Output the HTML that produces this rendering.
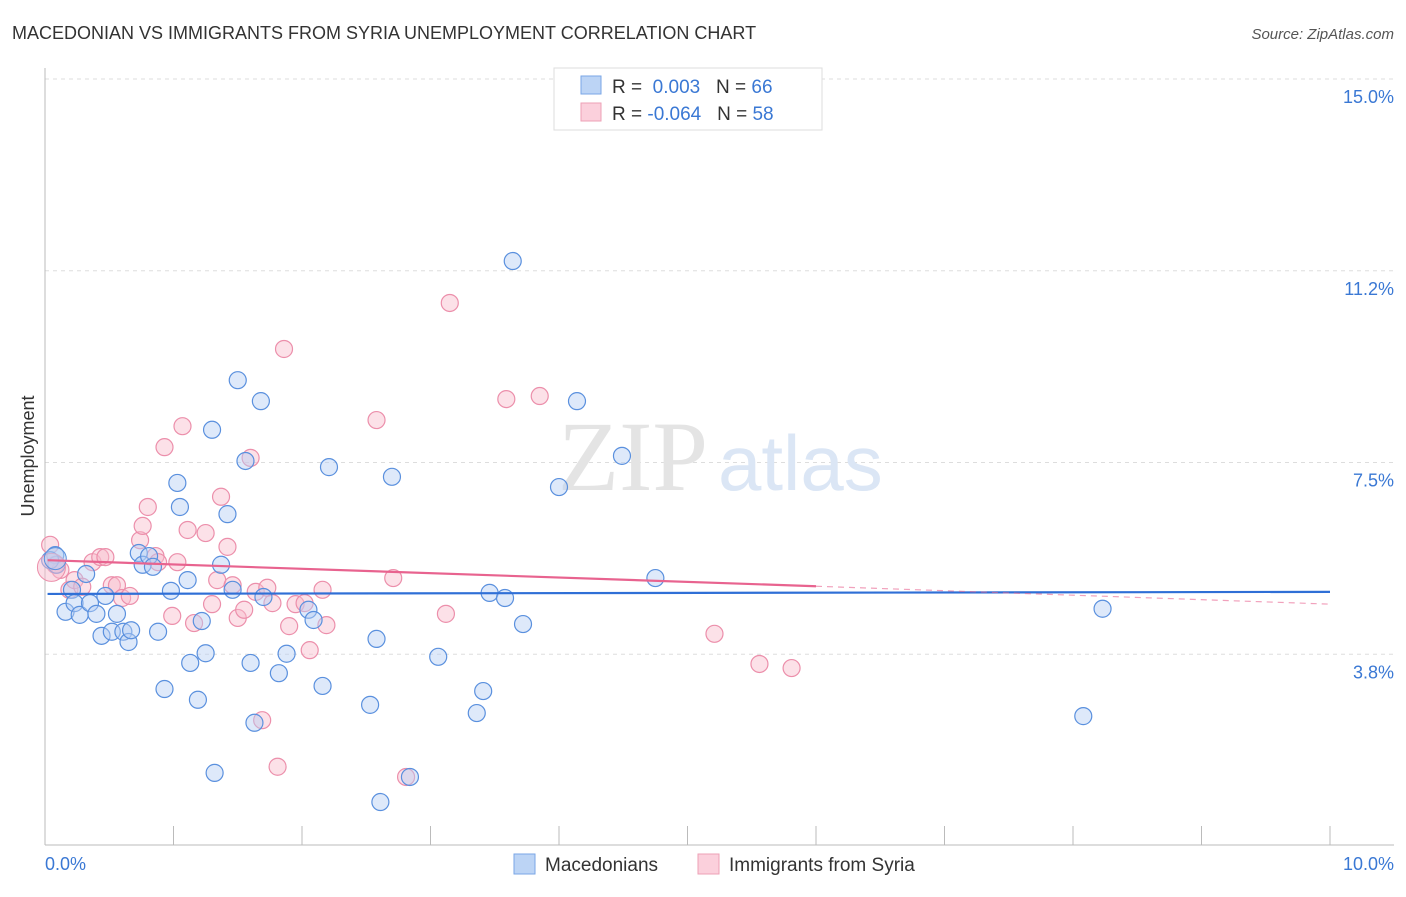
<!DOCTYPE html>
<html><head><meta charset="utf-8"><style>
body{margin:0;background:#fff;font-family:"Liberation Sans",sans-serif;}
</style></head><body>
<svg width="1406" height="892" viewBox="0 0 1406 892" style="font-family:'Liberation Sans',sans-serif">
<text x="12" y="39" font-size="18" fill="#333">MACEDONIAN VS IMMIGRANTS FROM SYRIA UNEMPLOYMENT CORRELATION CHART</text>
<text x="1394" y="39" font-size="15" fill="#555" text-anchor="end" font-style="italic">Source: ZipAtlas.com</text>
<g id="grid"></g>
<g id="yticks"></g>
<g id="xticks"></g>
<line x1="45" y1="68" x2="45" y2="845" stroke="#bbb"/>
<line x1="45" y1="845" x2="1394" y2="845" stroke="#bbb"/>
<text x="34" y="456" font-size="18" fill="#333" text-anchor="middle" transform="rotate(-90 34 456)">Unemployment</text>
<text x="45" y="870" font-size="18" fill="#3a78d4">0.0%</text>
<text x="1394" y="870" font-size="18" fill="#3a78d4" text-anchor="end">10.0%</text>
<text x="558" y="490" font-size="100" fill="#e4e4e4" font-family="Liberation Serif">ZIP</text>
<text x="718" y="490" font-size="78" fill="#dbe6f5">atlas</text>
<g id="pink"></g>
<g id="blue"></g>
<g id="lines"></g>
<g>
<rect x="554" y="68" width="268" height="62" fill="#fff" stroke="#ddd"/>
<rect x="581" y="76" width="20" height="18" fill="#bcd4f5" stroke="#7aa6e6"/>
<rect x="581" y="103" width="20" height="18" fill="#fbd0dc" stroke="#eea0b6"/>
<text x="612" y="93" font-size="19" fill="#333">R = <tspan fill="#3a78d4">&#160;0.003</tspan>&#160;&#160;&#160;N = <tspan fill="#3a78d4">66</tspan></text>
<text x="612" y="120" font-size="19" fill="#333">R = <tspan fill="#3a78d4">-0.064</tspan>&#160;&#160;&#160;N = <tspan fill="#3a78d4">58</tspan></text>
</g>
<g>
<rect x="514" y="854" width="21" height="20" fill="#bcd4f5" stroke="#7aa6e6"/>
<text x="545" y="871" font-size="19" fill="#333">Macedonians</text>
<rect x="698" y="854" width="21" height="20" fill="#fbd0dc" stroke="#eea0b6"/>
<text x="729" y="871" font-size="19" fill="#333">Immigrants from Syria</text>
</g>
</svg>
<script>
const yTicks=[3.75,7.5,11.25,15];
const yTickLabels=["3.8%","7.5%","11.2%","15.0%"];
const xTicks=[0,1,2,3,4,5,6,7,8,9,10];
const blueX=[0.08,0.09,0.16,0.21,0.23,0.27,0.32,0.35,0.40,0.44,0.47,0.52,0.56,0.61,0.65,0.67,0.73,0.76,0.81,0.84,0.88,0.93,0.98,1.03,1.05,1.11,1.13,1.19,1.22,1.25,1.30,1.32,1.37,1.42,1.46,1.50,1.56,1.60,1.63,1.68,1.70,1.82,1.88,2.05,2.09,2.16,2.21,2.53,2.58,2.61,2.70,2.84,3.06,3.36,3.41,3.46,3.58,3.64,3.72,4.00,4.14,4.49,4.75,8.08,8.23,0.04];
const blueY=[5.69,5.50,4.58,5.01,4.75,4.52,5.32,4.75,4.54,4.11,4.89,4.19,4.54,4.19,3.99,4.22,5.73,5.50,5.67,5.46,4.19,3.07,4.99,7.10,6.63,5.20,3.58,2.86,4.40,3.77,8.14,1.43,5.50,6.49,5.01,9.11,7.53,3.58,2.41,8.70,4.87,3.38,3.76,4.62,4.42,3.13,7.41,2.76,4.05,0.86,7.22,1.35,3.70,2.60,3.03,4.95,4.85,11.44,4.34,7.02,8.70,7.63,5.24,2.54,4.64,5.59];
const pinkX=[0.04,0.08,0.12,0.19,0.23,0.29,0.37,0.43,0.47,0.52,0.56,0.60,0.66,0.74,0.76,0.80,0.86,0.88,0.93,0.99,1.03,1.07,1.11,1.16,1.25,1.30,1.34,1.37,1.42,1.46,1.50,1.55,1.60,1.64,1.69,1.73,1.77,1.81,1.86,1.90,1.95,2.02,2.06,2.16,2.19,2.58,2.71,2.81,3.12,3.15,3.59,3.85,5.21,5.56,5.81];
const pinkY=[5.89,5.50,5.40,5.01,5.20,5.07,5.55,5.65,5.65,5.10,5.10,4.85,4.89,5.98,6.26,6.63,5.67,5.55,7.80,4.50,5.55,8.21,6.18,4.36,6.12,4.73,5.20,6.83,5.85,5.10,4.46,4.62,7.59,4.97,2.46,5.05,4.75,1.55,9.72,4.30,4.73,4.75,3.83,5.01,4.32,8.33,5.24,1.35,4.54,10.62,8.74,8.80,4.15,3.56,3.48];
const blueTrend=[4.93,4.97];
const pinkTrend=[5.59,5.08,4.73];
const NS="http://www.w3.org/2000/svg";
const X0=45,X1=1330,Y0=846,Y15=79;
const sx=v=>X0+(X1-X0)*v/10;
const sy=v=>Y0-(Y0-Y15)*v/15;
function mk(t,a,p){const e=document.createElementNS(NS,t);for(const k in a)e.setAttribute(k,a[k]);p.appendChild(e);return e;}
const grid=document.getElementById('grid'),yt=document.getElementById('yticks'),xt=document.getElementById('xticks');
yTicks.forEach((v,i)=>{
 const l=mk('line',{x1:45,x2:1394,y1:sy(v),y2:sy(v),stroke:'#ddd','stroke-dasharray':'4,4'},grid);
 
 
 const t=mk('text',{x:1394,y:sy(v)+24,'font-size':18,fill:'#3a78d4','text-anchor':'end'},yt);
 t.textContent=yTickLabels[i];
 
 
});
xTicks.forEach(v=>{
 const l=mk('line',{x1:sx(v),x2:sx(v),y1:826,y2:845,stroke:'#bbb'},xt);
 
 
});
function pts(xs,ys,g,fill,stroke,name){
 xs.forEach((x,i)=>{
  const c=mk('circle',{cx:sx(x),cy:sy(ys[i]),r:8.5,fill:fill,'fill-opacity':0.45,stroke:stroke,'stroke-width':1.2},g);
  
  
 });
}
pts(pinkX,pinkY,document.getElementById('pink'),'#f8bccd','#ec8fab','syria-point');
pts(blueX,blueY,document.getElementById('blue'),'#b6cff3','#5a90de','macedonian-point');
const big=[[0.05,5.45,14,'#f8bccd','#ec8fab'],[0.08,5.62,11,'#b6cff3','#5a90de']];
big.forEach(b=>{const c=mk('circle',{cx:sx(b[0]),cy:sy(b[1]),r:b[2],fill:b[3],'fill-opacity':0.5,stroke:b[4]},document.getElementById('blue'));
 
 });
const lg=document.getElementById('lines');
let l=mk('line',{x1:sx(0.02),y1:sy(blueTrend[0]),x2:sx(10),y2:sy(blueTrend[1]),stroke:'#2f6fd6','stroke-width':2.2},lg);


l=mk('line',{x1:sx(0.02),y1:sy(pinkTrend[0]),x2:sx(6),y2:sy(pinkTrend[1]),stroke:'#e8638f','stroke-width':2.2},lg);


l=mk('line',{x1:sx(6),y1:sy(pinkTrend[1]),x2:sx(10),y2:sy(pinkTrend[2]),stroke:'#e8638f','stroke-width':1.2,'stroke-dasharray':'6,5','stroke-opacity':0.6},lg);


</script>
</body></html>
